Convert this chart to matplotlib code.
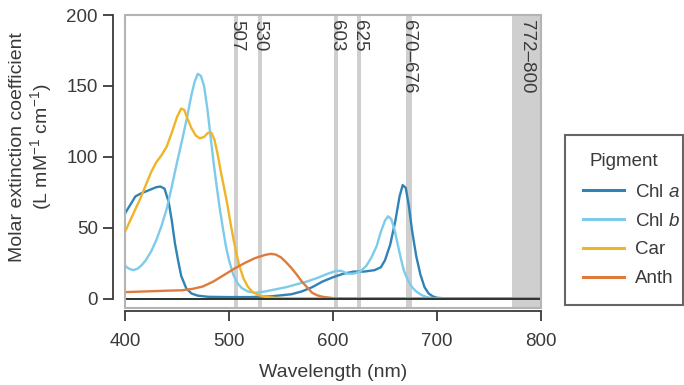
import numpy as np
import matplotlib
matplotlib.use('Agg')
import matplotlib.pyplot as plt
from matplotlib.patches import Rectangle

plt.rcParams['font.family'] = ['Liberation Sans', 'DejaVu Sans']
plt.rcParams['mathtext.fontset'] = 'custom'
plt.rcParams['mathtext.rm'] = 'Liberation Sans'
plt.rcParams['mathtext.it'] = 'Liberation Sans:italic'

# Pigment absorption spectra
chla_wl = [400, 405, 410, 415, 420, 425, 430, 434, 438, 442, 445, 448, 451, 454, 459, 464, 470,
           480, 500, 520, 540, 560, 570, 580, 590, 600, 610, 620, 630, 640, 646, 650, 655, 660,
           664, 667, 670, 673, 676, 680, 684, 688, 692, 696, 700, 710, 800]
chla_val = [60, 66, 72, 74, 75.5, 77, 78.5, 79, 77.5, 68, 55, 39, 27, 16, 7, 3.5, 2,
            1.2, 1, 1, 1.5, 3, 5, 8, 12, 15, 17.5, 19, 19, 20, 22, 27, 38, 55,
            72, 80, 78, 65, 48, 30, 17, 8, 3.5, 1.5, 0.5, 0, 0]

chlb_wl = [400, 404, 408, 412, 416, 420, 425, 430, 435, 440, 445, 450, 455, 460, 464, 467, 470,
           473, 476, 479, 482, 485, 488, 491, 494, 497, 500, 504, 508, 512, 518, 525, 535, 545,
           555, 565, 575, 585, 595, 603, 608, 614, 620, 626, 632, 637, 642, 646, 650, 653, 656,
           659, 662, 665, 668, 672, 676, 680, 685, 690, 695, 700, 800]
chlb_val = [23, 21, 20, 21, 23.5, 27, 33, 41, 51, 63, 79, 96, 112, 129, 144, 153, 158.5,
            157, 150, 135, 116, 97, 80, 64, 50, 37, 27, 17, 11, 7.5, 5, 4, 5, 6.5,
            8, 10, 12, 14.5, 17.5, 19.5, 19.5, 17.5, 17.5, 19, 23, 29, 37, 47, 55, 58, 56,
            49, 39, 29, 20, 13, 8, 5, 2.5, 1, 0.3, 0, 0]

car_wl = [400, 405, 410, 415, 420, 425, 430, 435, 440, 445, 450, 454, 457, 460, 464, 468, 472,
          476, 480, 483, 486, 489, 492, 495, 498, 501, 504, 507, 510, 514, 518, 522, 528, 535,
          545, 560, 800]
car_val = [47, 55, 63, 71, 80, 89, 96, 101, 107, 117, 128, 134, 133, 127, 120, 115, 113,
           114, 117, 117, 112, 102, 90, 79, 68, 55, 43, 32, 23, 14, 8.5, 5, 2.5, 1.2,
           0.5, 0.2, 0]

anth_wl = [400, 420, 440, 455, 465, 475, 485, 495, 505, 515, 525, 535, 540, 545, 550, 555, 560,
           565, 570, 575, 580, 585, 590, 600, 610, 800]
anth_val = [4.5, 5, 5.5, 5.8, 6.8, 8.5, 12, 16.5, 21, 25, 28.5, 30.8, 31.5, 31, 29, 25.5, 21.5,
            17, 12, 8, 4, 2.2, 1.2, 0.3, 0, 0]

series = [('Chl $\\it{a}$', chla_wl, chla_val, '#2f83b6'),
          ('Chl $\\it{b}$', chlb_wl, chlb_val, '#7dcbeb'),
          ('Car', car_wl, car_val, '#f0b428'),
          ('Anth', anth_wl, anth_val, '#df7b3a')]

# Marked wavelengths (single lines and ranges)
single_lines = [507, 530, 603, 625]
ranges = [(670, 676), (772, 800)]

text_col = '#3a3a3a'

fig = plt.figure(figsize=(6.84, 3.85), dpi=100)
ax = fig.add_axes([125 / 684, 1 - 308 / 385, 416 / 684, 293 / 385])
ax.set_xlim(400, 800)
ax.set_ylim(-6.7, 200)

# grey markers for wavelengths
for w in single_lines:
    ax.axvspan(w - 1.8, w + 1.8, color='#cfcfcf', lw=0, zorder=0)
    ax.text(w, 0.983, str(w), transform=ax.get_xaxis_transform(), rotation=270,
            ha='center', va='top', fontsize=13.5, color=text_col)
for lo, hi in ranges:
    ax.axvspan(lo, hi, color='#cfcfcf', lw=0, zorder=0)
    ax.text((lo + hi) / 2, 0.983, f'{lo}\u2013{hi}', transform=ax.get_xaxis_transform(),
            rotation=270, ha='center', va='top', fontsize=13.5, color=text_col)

for name, wl, val, col in series:
    ax.plot(wl, val, color=col, lw=1.7, label=name, zorder=3)

ax.axhline(0, color='#2c3430', lw=1.4, zorder=4)

# panel frame
ax.add_patch(Rectangle((0, 0), 1, 1, transform=ax.transAxes, fill=False,
                       edgecolor='#b4b4b4', lw=1.5, zorder=5, clip_on=False))

# detached axes
for s in ['top', 'right']:
    ax.spines[s].set_visible(False)
ax.spines['left'].set_position(('outward', 8.6))
ax.spines['bottom'].set_position(('outward', 2.2))
ax.spines['left'].set_bounds(0, 200)
ax.spines['bottom'].set_bounds(400, 800)
for s in ['left', 'bottom']:
    ax.spines[s].set_color(text_col)
    ax.spines[s].set_linewidth(1.3)
ax.set_xticks([400, 500, 600, 700, 800])
ax.set_yticks([0, 50, 100, 150, 200])
ax.tick_params(axis='both', length=7, width=1.3, color=text_col, labelcolor=text_col,
               labelsize=13.5)
ax.tick_params(axis='y', pad=4)
ax.tick_params(axis='x', pad=9)

ax.set_xlabel('Wavelength (nm)', fontsize=14, color=text_col)
ax.xaxis.set_label_coords(0.5, -0.19)
ax.set_ylabel('Molar extinction coefficient\n(L mM$^{-1}$ cm$^{-1}$)', fontsize=14,
              color=text_col, linespacing=1.1)
ax.yaxis.set_label_coords(-0.17, 0.55)

leg = ax.legend(title='Pigment', loc='upper left',
                bbox_to_anchor=(565 / 684, 1 - 300 / 385, 118 / 684, 165 / 385),
                bbox_transform=fig.transFigure, mode='expand', frameon=True,
                fancybox=False, fontsize=13.5, title_fontsize=13.5,
                handlelength=2.2, handletextpad=0.6, labelspacing=0.62,
                borderaxespad=0, borderpad=0.95)
leg._legend_box.sep = 10
leg.get_frame().set_edgecolor('#404040')
leg.get_frame().set_linewidth(1.5)
leg.get_title().set_color(text_col)
for t in leg.get_texts():
    t.set_color(text_col)
for h in leg.get_lines():
    h.set_linewidth(2.2)

fig.savefig('out.png', dpi=100)
